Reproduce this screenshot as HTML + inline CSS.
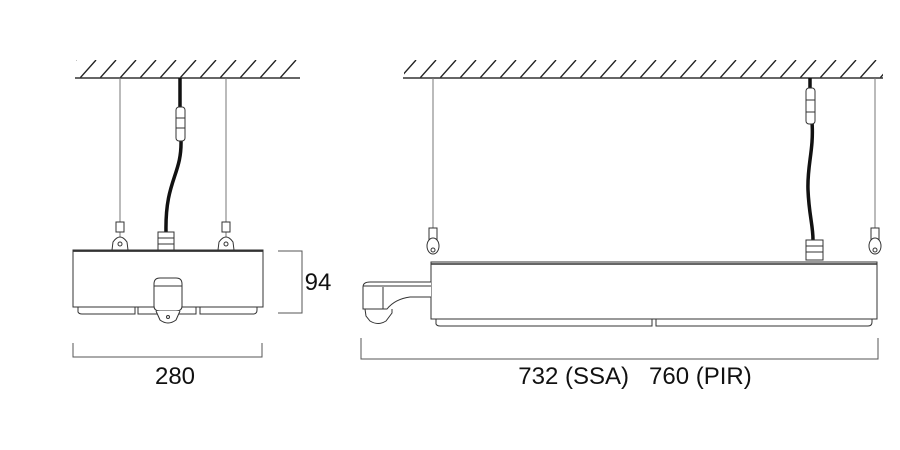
<!DOCTYPE html>
<html><head><meta charset="utf-8"><style>
html,body{margin:0;padding:0;background:#fff;width:900px;height:450px;overflow:hidden}
svg{display:block}
text{font-family:"Liberation Sans",Arial,sans-serif;fill:#111}
</style></head><body>
<svg width="900" height="450" viewBox="0 0 900 450" xmlns="http://www.w3.org/2000/svg">
<defs>
<pattern id="h" width="20" height="18" patternUnits="userSpaceOnUse" x="0" y="60">
<line x1="0" y1="18" x2="16" y2="0" stroke="#222" stroke-width="1.4"/>
</pattern>
</defs>
<g stroke="#333" fill="none" stroke-width="1">
<rect x="76" y="60" width="224" height="18" fill="url(#h)" stroke="none"/>
<line x1="75" y1="78" x2="300" y2="78" stroke-width="1.5"/>
<rect x="404" y="60" width="479" height="18" fill="url(#h)" stroke="none"/>
<line x1="403" y1="78" x2="883" y2="78" stroke-width="1.5"/>

<!-- LEFT UNIT -->
<line x1="120" y1="78" x2="120" y2="240" stroke="#777"/>
<line x1="226" y1="78" x2="226" y2="240" stroke="#777"/>
<rect x="116" y="222" width="8" height="10" fill="#fff"/>
<rect x="222" y="222" width="8" height="10" fill="#fff"/>
<path d="M112 250 L113 242 Q120 232 127 242 L128 250" fill="#fff"/>
<circle cx="120" cy="244" r="2"/>
<path d="M218 250 L219 242 Q226 232 233 242 L234 250" fill="#fff"/>
<circle cx="226" cy="244" r="2"/>
<path d="M180 78 L180 110 M181 140 C182 175 165 180 166 232" stroke="#111" stroke-width="3.5"/>
<rect x="176" y="107" width="9" height="34" rx="3" fill="#fff"/>
<line x1="176" y1="118" x2="185" y2="118"/><line x1="176" y1="128" x2="185" y2="128"/>
<rect x="158" y="232" width="16" height="18" fill="#fff"/>
<line x1="158" y1="238" x2="174" y2="238"/><line x1="158" y1="244" x2="174" y2="244"/>
<rect x="73" y="250" width="190" height="57" fill="#fff"/>
<line x1="73" y1="251" x2="263" y2="251" stroke-width="1.8"/>
<path d="M78 307 V312 Q79 314 82 314 H135 V307 M138 307 V314 H196 V307 M200 307 V314 H253 Q257 314 257 310 V307"/>
<path d="M154 284 Q154 278 160 278 H176 Q182 278 182 284 V306 Q182 311 176 311 H160 Q154 311 154 306 Z" fill="#fff"/>
<line x1="154" y1="286" x2="182" y2="286"/>
<path d="M156 311 L160 320 Q168 326 176 320 L180 311" fill="#fff"/>
<circle cx="168" cy="317" r="1.5"/>
<path d="M73 343 V357 H262 V343" stroke="#555"/>
<path d="M278 251 H302 V313 H278" stroke="#555"/>

<!-- RIGHT UNIT -->
<line x1="433" y1="78" x2="433" y2="238" stroke="#777"/>
<line x1="875" y1="78" x2="875" y2="238" stroke="#777"/>
<rect x="429" y="228" width="8" height="12" fill="#fff"/>
<rect x="871" y="228" width="8" height="12" fill="#fff"/>
<ellipse cx="433" cy="246" rx="6" ry="8" fill="#fff"/>
<ellipse cx="875" cy="246" rx="6" ry="8" fill="#fff"/>
<circle cx="433" cy="250" r="2"/><circle cx="875" cy="250" r="2"/>
<path d="M810 78 L810 90 M812 122 C814 150 807 165 808 190 C809 215 813 225 813 240" stroke="#111" stroke-width="3.5"/>
<rect x="806" y="88" width="9" height="36" rx="3" fill="#fff"/>
<line x1="806" y1="100" x2="815" y2="100"/><line x1="806" y1="112" x2="815" y2="112"/>
<rect x="806" y="240" width="17" height="20" fill="#fff"/>
<line x1="806" y1="246" x2="823" y2="246"/><line x1="806" y1="252" x2="823" y2="252"/>
<rect x="431" y="262" width="446" height="57" fill="#fff"/>
<line x1="431" y1="264" x2="877" y2="264" stroke-width="1.5"/>
<path d="M436 319 V324 Q437 326 440 326 H652 V319 M656 319 V326 H868 Q872 326 872 322 V319"/>
<path d="M431 282 H370 Q363 282 363 287 V309 H387 Q395 299 410 297 H431" fill="#fff"/>
<line x1="363" y1="286" x2="431" y2="286"/>
<line x1="383" y1="287" x2="383" y2="309"/>
<path d="M365 309 L366 316 L370 321 Q378 326 386 321 L392 313 V309"/>
<path d="M361 338 V359 H878 V338" stroke="#555"/>
</g>
<text x="175" y="384" font-size="24" text-anchor="middle">280</text>
<text x="318" y="290" font-size="24" text-anchor="middle">94</text>
<text x="635" y="384" font-size="24" text-anchor="middle" xml:space="preserve">732 (SSA)   760 (PIR)</text>
</svg>
</body></html>
